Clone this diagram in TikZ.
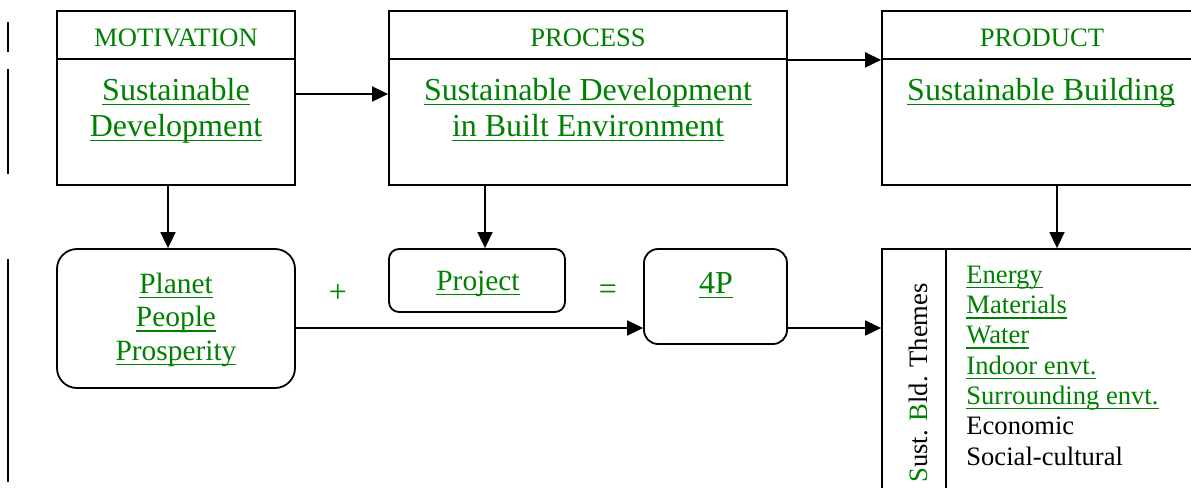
\documentclass[tikz,border=0pt]{standalone}
\usepackage{fontspec}
\setmainfont{Liberation Serif}
\usepackage{xcolor}
\usepackage{tikz}
\usetikzlibrary{positioning}
\usetikzlibrary{arrows.meta}

\definecolor{linkgreen}{RGB}{0,128,0}
% underlined link-style text
\newcommand{\ulnk}[1]{\setbox0\hbox{#1}\rlap{\rule[-2.5pt]{\wd0}{0.75pt}}\box0}

\tikzset{
  headbox/.style={draw, rectangle, line width=0.9pt, minimum height=24pt, inner sep=0pt,
    text height=11pt, text depth=0pt, text=linkgreen, font=\fontsize{13.3}{15}\selectfont},
  bodybox/.style={draw, rectangle, line width=0.9pt, minimum height=63pt, inner sep=0pt},
  roundbox/.style={draw, rectangle, rounded corners=#1, line width=0.9pt, inner sep=0pt},
  arr/.style={-{Triangle[length=8pt,width=7.5pt]}, line width=0.9pt},
  bigtext/.style={text=linkgreen, align=center, inner sep=0pt, font=\fontsize{16}{18}\selectfont},
  midtext/.style={text=linkgreen, align=center, inner sep=0pt, font=\fontsize{14.7}{16.75}\selectfont},
  smalltext/.style={align=left, inner sep=0pt, font=\fontsize{13.3}{15.15}\selectfont},
}

\begin{document}
\begin{tikzpicture}[x=0.5pt, y=-0.5pt]
            \clip (0,0) rectangle (1191,488);
            \useasboundingbox (0,0) rectangle (1191,488);

            % Margin bars on the left
            \draw[line width=0.9pt] (8,22) -- (8,52);
            \draw[line width=0.9pt] (8,69) -- (8,174);
            \draw[line width=0.9pt] (8,259) -- (8,482);

            % Top row: motivation, process, product
            % (multi-line texts sit on the baseline of their last line)
            \node[headbox, minimum width=119pt] (motivhead) at (176,35) {MOTIVATION};
            \node[bodybox, minimum width=119pt] (motivbody) at (176,122) {};
            \node[bigtext, anchor=base] (motivtext) at (176,136) {\ulnk{Sustainable}\\\ulnk{Development}};

            \node[headbox, minimum width=199pt] (prochead) at (588,35) {PROCESS};
            \node[bodybox, minimum width=199pt] (procbody) at (588,122) {};
            \node[bigtext, anchor=base] (proctext) at (588,136) {\ulnk{Sustainable Development}\\\ulnk{in Built Environment}};

            \node[headbox, minimum width=160pt] (prodhead) at (1042,35) {PRODUCT};
            \node[bodybox, minimum width=160pt] (prodbody) at (1042,122) {};
            \node[bigtext, anchor=base] (prodtext) at (1041,100) {\ulnk{Sustainable Building}};

            % Bottom row
            \node[roundbox=10pt, minimum width=119pt, minimum height=69.5pt] (planet) at (176,318.5) {};
            \node[midtext, anchor=base] (planettext) at (176,360) {\ulnk{Planet}\\\ulnk{People}\\\ulnk{Prosperity}};
            \node[midtext, font=\fontsize{16}{18}\selectfont] (plus) at (338,293) {+};

            \node[roundbox=5pt, minimum width=88pt, minimum height=31.5pt] (project) at (477,280.5) {};
            \node[midtext, anchor=base] (projecttext) at (478,290) {\ulnk{Project}};
            \node[midtext, font=\fontsize{16}{18}\selectfont] (equals) at (608,292) {=};

            \node[roundbox=7pt, minimum width=71.5pt, minimum height=47.5pt] (fourp) at (715.5,296.5) {};
            \node[bigtext, anchor=base] (fourptext) at (716,293) {\ulnk{4P}};

            \node[bodybox, minimum width=32pt, minimum height=130.5pt] (themelabel) at (914,379.5) {};
            \node[bodybox, minimum width=128pt, minimum height=130.5pt] (themelist) at (1074,379.5) {};
            \node[smalltext, rotate=90] (themetitle) at (918,383)
                {\textcolor{linkgreen}{S}ust. \textcolor{linkgreen}{B}ld. Themes};
            \node[smalltext, anchor=base west] (themeitems) at (966,465) {%
                \textcolor{linkgreen}{\ulnk{Energy}}\\
                \textcolor{linkgreen}{\ulnk{Materials}}\\
                \textcolor{linkgreen}{\ulnk{Water}}\\
                \textcolor{linkgreen}{\ulnk{Indoor envt.}}\\
                \textcolor{linkgreen}{\ulnk{Surrounding envt.}}\\
                Economic\\
                Social-cultural};

            % Connectors
            \draw[arr] ([yshift=14pt]motivbody.east) -- ([yshift=14pt]procbody.west);
            \draw[arr] (prochead.south east) -- (prodhead.south west);
            \draw[arr] ([xshift=-4pt]motivbody.south) -- ([xshift=-4pt]planet.north);
            \draw[arr] ([xshift=-51.5pt]procbody.south) -- ([xshift=-51.5pt]procbody.south |- project.north);
            \draw[arr] ([xshift=7.5pt]prodbody.south) -- ([xshift=7.5pt]prodbody.south |- themelist.north);
            \draw[arr] ([yshift=-4.75pt]planet.east) coordinate (mid) -- (mid -| fourp.west);
            \draw[arr] (mid -| fourp.east) -- (mid -| themelabel.west);
        \end{tikzpicture}
\end{document}
